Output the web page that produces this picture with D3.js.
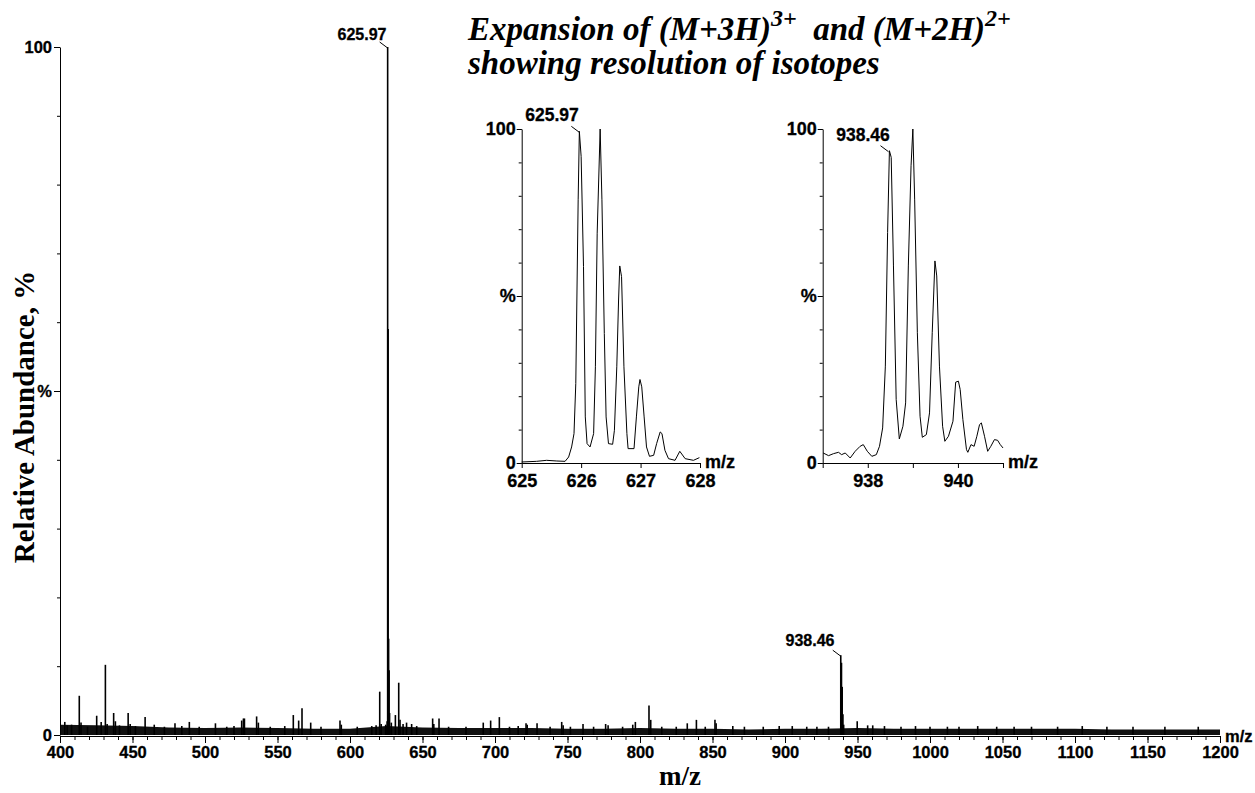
<!DOCTYPE html>
<html>
<head>
<meta charset="utf-8">
<style>
    body { margin: 0; background: #fff; }
    svg { display: block; }
    .tick text { font-family: 'Liberation Sans', Arial, sans-serif; font-weight: bold; fill: #000; stroke: #000; stroke-width: 0.3px; }
    .main-axis .tick text { font-size: 16.5px; }
    .inset-axis .tick text { font-size: 18px; }
    .tick line, .domain { stroke: #000; stroke-width: 1px; }
    .lbl { font-family: 'Liberation Sans', Arial, sans-serif; font-weight: bold; fill: #000; stroke: #000; stroke-width: 0.3px; }
    .ttl { font-family: 'Liberation Serif', 'Times New Roman', serif; font-weight: bold; fill: #000; }
</style>
</head>
<body>
<svg width="1255" height="793"></svg>

<script src="https://d3js.org/d3.v7.min.js"></script>
<script>
    // ---- data ----
    // main spectrum, stick peaks [m/z, relative abundance %]
    let mainPeaks = [
        [403.3, 1.9], [405, 1.4], [408, 1.5], [413.3, 5.7], [414.5, 1.8], [419, 1.2], [425.3, 2.8], [428.4, 1.9],
        [431.3, 10.2], [432.5, 1.6], [437, 3.2], [438.2, 2.0], [441, 1.4], [447, 3.2], [448.4, 1.6],
        [452, 1.3], [458.7, 2.6], [465, 1.5], [472, 1.2], [479.3, 1.7], [484, 1.3], [489.2, 1.9],
        [496, 1.2], [507.2, 1.7], [515, 1.2], [520, 1.3], [525.3, 2.1], [526.5, 2.4], [527.2, 2.4],
        [535.6, 2.7], [536.8, 1.8], [545, 1.2], [555, 1.3], [560.9, 2.9], [564.6, 2.1], [566.9, 3.9],
        [572.9, 1.8], [580, 1.2], [593.1, 2.1], [594, 1.5], [605, 1.2], [615, 1.3], [618, 1.4],
        [620.5, 6.3], [621.5, 1.6], [624.6, 1.5], [625.6, 2.0], [625.97, 100], [626.3, 59], [626.64, 14],
        [626.98, 9.4], [627.3, 3.2], [628.5, 1.8], [631.3, 2.9], [633.6, 7.6], [634.5, 2.2], [636.6, 1.6],
        [639, 1.8], [642.5, 1.6], [646, 1.3], [657, 2.4], [657.8, 1.6], [661.4, 2.4], [668, 1.2],
        [680, 1.2], [691.9, 1.8], [697, 2.1], [703, 2.6], [710, 1.2], [716, 1.3], [721.4, 1.7], [722.2, 1.5],
        [729, 1.7], [738, 1.2], [746, 1.9], [747, 1.4], [752, 1.2], [760.7, 1.6], [768, 1.2],
        [776.3, 1.6], [778, 1.4], [788, 1.2], [795, 1.5], [796.8, 1.9], [806.2, 4.3], [807.4, 2.2],
        [815, 1.2], [825, 1.2], [832.6, 1.7], [838.9, 2.2], [845, 1.2], [851.7, 2.2], [852.5, 1.7],
        [864, 1.3], [872, 1.2], [885, 1.2], [896, 1.3], [905, 1.3], [915, 1.2], [922, 1.2], [930, 1.2],
        [938.46, 11.6], [938.96, 10.5], [939.46, 7.0], [939.96, 3.0], [940.46, 1.5],
        [949.8, 2.0], [957, 1.4], [960.5, 1.4], [968.6, 1.3], [980, 1.2], [990, 1.3], [1000, 1.2],
        [1012, 1.2], [1020, 1.2], [1032.9, 1.3], [1046, 1.2], [1058, 1.2], [1070, 1.2], [1088, 1.2],
        [1105, 1.3], [1122, 1.2], [1140, 1.2], [1162, 1.2], [1185, 1.2]
    ];

    // dense baseline noise envelope (top of the noise band, %)
    let noiseMz  = [400, 425, 450, 475, 500, 525, 550, 575, 600, 625, 650, 675, 700, 725, 750, 775, 800,
                    825, 850, 875, 900, 925, 950, 975, 1000, 1025, 1050, 1075, 1100, 1125, 1150, 1175, 1200];
    let noiseTop = [1.5, 1.4, 1.3, 1.1, 1.0, 1.1, 1.0, 0.9, 0.9, 1.3, 1.1, 1.0, 1.0, 1.0, 0.9, 0.9, 1.0,
                    0.9, 0.9, 0.8, 0.9, 0.9, 1.0, 0.9, 0.9, 0.9, 0.9, 0.9, 0.9, 0.8, 0.8, 0.8, 0.8];

    // expansion of (M+3H)3+
    let inset1Mz  = [625.0, 625.25, 625.42, 625.59, 625.73, 625.79, 625.84, 625.88, 625.91, 625.95, 625.97,
                     626.0, 626.04, 626.07, 626.10, 626.15, 626.21, 626.24, 626.27, 626.32, 626.35, 626.39,
                     626.42, 626.46, 626.53, 626.56, 626.6, 626.63, 626.65, 626.68, 626.72, 626.77, 626.79,
                     626.89, 626.93, 626.97, 626.99, 627.02, 627.06, 627.1, 627.15, 627.22, 627.27, 627.33,
                     627.36, 627.41, 627.47, 627.58, 627.66, 627.75, 627.89, 627.99];
    let inset1Int = [0.3, 0.5, 0.8, 0.6, 0.5, 1.8, 4.8, 8.8, 23.8, 78.8, 99.3,
                     91.8, 58.8, 13.8, 5.8, 4.8, 8.8, 28.8, 68.8, 100, 78.8, 38.8,
                     13.8, 5.8, 5.6, 9.8, 28.8, 48.8, 59, 55.8, 28.8, 8.8, 4.3,
                     4.3, 13.8, 22.8, 25, 22.8, 13.8, 4.8, 2.0, 2.3, 5.8, 9.3,
                     8.8, 3.8, 1.3, 0.8, 3.5, 1.3, 0.8, 1.6];

    // expansion of (M+2H)2+
    let inset2Mz  = [937.01, 937.13, 937.24, 937.35, 937.42, 937.5, 937.61, 937.72, 937.83, 937.9, 937.99,
                     938.09, 938.19, 938.26, 938.33, 938.39, 938.44, 938.48, 938.52, 938.57, 938.63, 938.7,
                     938.78, 938.84, 938.9, 938.96, 939.0, 939.04, 939.1, 939.16, 939.21, 939.3, 939.37,
                     939.43, 939.49, 939.53, 939.59, 939.66, 939.71, 939.79, 939.89, 939.95, 940.01, 940.05,
                     940.11, 940.19, 940.22, 940.29, 940.36, 940.42, 940.48, 940.52, 940.59, 940.66, 940.73,
                     940.81, 940.88, 940.94, 941.0];
    let inset2Int = [3, 2.2, 2.8, 3.2, 2.5, 3, 1.5, 3.5, 5, 5.5, 3.5,
                     2, 2.5, 5, 10.5, 29, 69, 93.5, 91.5, 59, 19, 7.2,
                     11, 18, 59, 89, 100, 79, 39, 14, 7.7, 8.5, 15,
                     39, 60.5, 56, 29, 11, 6.5, 8, 12.5, 24.2, 24.5, 22,
                     13, 4, 3.2, 5.5, 5, 8, 11.5, 12, 8, 3.5, 5,
                     7, 6.8, 5.5, 4.5];

    let mainXTicks = d3.range(400, 1201, 50);
    let mainXMinor = d3.range(400, 1201, 10);
    let yMajor = [0, 50, 100];
    let yMinor = d3.range(0, 101, 10);
    let yTickNames = { 0: "0", 50: "%", 100: "100" };
    let inset1Ticks = [625, 626, 627, 628];
    let inset2Ticks = [937, 938, 939, 940, 941];
    let inset2Labels = [938, 940];

    // ---- drawing ----
    let svg = d3.select("svg");

    let x = d3.scaleLinear().domain([400, 1200]).range([60, 1220]);
    let y = d3.scaleLinear().domain([0, 100]).range([735, 47]);

    // noise band
    let noise = noiseMz.map((m, i) => ({ mz: m, v: noiseTop[i] }));
    svg.append("path")
        .datum(noise)
        .attr("fill", "#111")
        .attr("d", d3.area().x(d => x(d.mz)).y0(y(0)).y1(d => y(d.v)));

    // stick spectrum
    svg.append("g")
        .selectAll("line")
        .data(mainPeaks)
        .join("line")
        .attr("x1", d => x(d[0])).attr("x2", d => x(d[0]))
        .attr("y1", y(0)).attr("y2", d => y(d[1]))
        .attr("stroke", "#000")
        .attr("stroke-width", 1.6);

    // main axes
    svg.append("g").attr("class", "main-axis")
        .attr("transform", "translate(0,736)")
        .call(d3.axisBottom(x).tickValues(mainXMinor).tickSize(4).tickFormat(""))
        .call(g => g.select(".domain").remove());
    svg.append("g").attr("class", "main-axis")
        .attr("transform", "translate(0,736)")
        .call(d3.axisBottom(x).tickValues(mainXTicks).tickSize(7).tickPadding(3).tickSizeOuter(0).tickFormat(d3.format("d")));

    svg.append("g").attr("class", "main-axis")
        .attr("transform", "translate(60,0)")
        .call(d3.axisLeft(y).tickValues(yMinor).tickSize(3).tickFormat(""))
        .call(g => g.select(".domain").remove());
    svg.append("g").attr("class", "main-axis")
        .attr("transform", "translate(60,0)")
        .call(d3.axisLeft(y).tickValues(yMajor).tickSize(6).tickPadding(2).tickSizeOuter(0).tickFormat(d => yTickNames[d]));

    svg.append("text").attr("class", "lbl")
        .attr("x", 1225).attr("y", 742)
        .style("font-size", "16.5px")
        .text("m/z");

    // axis titles
    svg.append("text").attr("class", "ttl")
        .attr("x", 680).attr("y", 785)
        .attr("text-anchor", "middle")
        .style("font-size", "27px")
        .text("m/z");
    svg.append("text").attr("class", "ttl")
        .attr("transform", "translate(34,417) rotate(-90)")
        .attr("text-anchor", "middle")
        .style("font-size", "29px")
        .text("Relative Abundance, %");

    // peak labels
    function peakLabel(g, xs, ys, mz, val, tx, ty, size) {
        g.append("text").attr("class", "lbl")
            .attr("x", tx).attr("y", ty)
            .attr("text-anchor", "middle")
            .style("font-size", size + "px")
            .text(mz.toFixed(2));
        g.append("line")
            .attr("x1", xs(mz) - 8).attr("y1", ys(val) - 5)
            .attr("x2", xs(mz)).attr("y2", ys(val) + 1)
            .attr("stroke", "#000").attr("stroke-width", 1);
    }
    peakLabel(svg, x, y, 625.97, 100, 362, 40, 16);
    peakLabel(svg, x, y, 938.46, 11.6, 810, 646, 16);

    // title
    let title = svg.append("text").attr("class", "ttl")
        .attr("x", 468).attr("y", 40)
        .style("font-size", "33px").style("font-style", "italic");
    title.append("tspan").text("Expansion of (M+3H)");
    title.append("tspan").attr("dy", -14).style("font-size", "24px").text("3+");
    title.append("tspan").attr("dy", 14).text("\u00a0 and (M+2H)");
    title.append("tspan").attr("dy", -14).style("font-size", "24px").text("2+");
    svg.append("text").attr("class", "ttl")
        .attr("x", 468).attr("y", 74)
        .style("font-size", "33px").style("font-style", "italic")
        .text("showing resolution of isotopes");

    // insets
    function drawInset(mzs, vals, domain, range, ticks, labels, peak, labelPos) {
        let xi = d3.scaleLinear().domain(domain).range(range);
        let yi = d3.scaleLinear().domain([0, 100]).range([463, 129]);
        let g = svg.append("g");
        let pts = mzs.map((m, i) => [m, vals[i]]);

        g.append("path")
            .datum(pts)
            .attr("fill", "none")
            .attr("stroke", "#000")
            .attr("stroke-width", 1)
            .attr("d", d3.line().x(d => xi(d[0])).y(d => yi(d[1])));

        g.append("g").attr("class", "inset-axis")
            .attr("transform", "translate(0,463)")
            .call(d3.axisBottom(xi).tickValues(ticks).tickSize(5).tickPadding(6).tickSizeOuter(0)
                .tickFormat(d => labels.includes(d) ? d : ""));
        g.append("g").attr("class", "inset-axis")
            .attr("transform", "translate(" + range[0] + ",0)")
            .call(d3.axisLeft(yi).tickValues(yMinor).tickSize(3).tickFormat(""))
            .call(gg => gg.select(".domain").remove());
        g.append("g").attr("class", "inset-axis")
            .attr("transform", "translate(" + range[0] + ",0)")
            .call(d3.axisLeft(yi).tickValues(yMajor).tickSize(5).tickPadding(1).tickSizeOuter(0)
                .tickFormat(d => yTickNames[d]));

        g.append("text").attr("class", "lbl")
            .attr("x", range[1] + 5).attr("y", 468)
            .style("font-size", "18px")
            .text("m/z");

        let pv = vals[mzs.indexOf(peak[0])];
        peakLabel(g, xi, yi, peak[1], pv, labelPos[0], labelPos[1], 17.5);
    }

    drawInset(inset1Mz, inset1Int, [625, 628], [521.7, 700], inset1Ticks, inset1Ticks,
        [625.97, 625.97], [552, 121]);
    drawInset(inset2Mz, inset2Int, [937, 941], [822.7, 1003], inset2Ticks, inset2Labels,
        [938.48, 938.46], [863, 141]);
</script>
</body>
</html>
